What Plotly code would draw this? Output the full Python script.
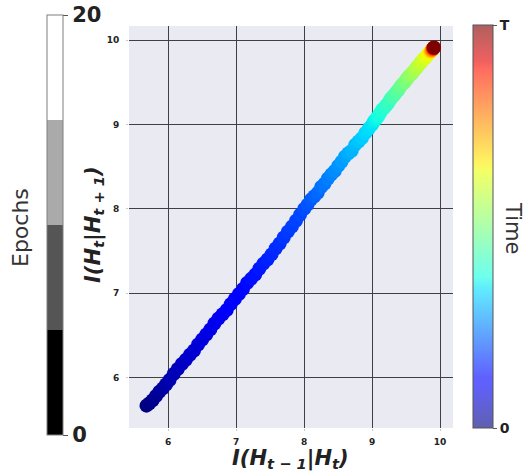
import numpy as np
import plotly.graph_objects as go

# ---------------- data ----------------
# each point: previous-step MI (x), next-step MI (y), normalised time (colour)
x_prev = [
    5.68, 5.72, 5.77, 5.82, 5.87, 5.92, 5.97, 6.02, 6.08, 6.14,
    6.20, 6.26, 6.32, 6.38, 6.44, 6.50, 6.56, 6.62, 6.68, 6.74,
    6.80, 6.86, 6.92, 6.98, 7.04, 7.10, 7.16, 7.22, 7.28, 7.34,
    7.40, 7.46, 7.52, 7.58, 7.64, 7.70, 7.76, 7.82, 7.88, 7.94,
    8.00, 8.05, 8.10, 8.15, 8.20, 8.25, 8.30, 8.35, 8.40, 8.45,
    8.50, 8.55, 8.60, 8.65, 8.70, 8.75, 8.80, 8.85, 8.90, 8.95,
    9.00, 9.03, 9.06, 9.09, 9.12, 9.15, 9.18, 9.21, 9.24, 9.27,
    9.30, 9.325, 9.35, 9.375, 9.40, 9.425, 9.45, 9.475, 9.50, 9.52,
    9.54, 9.56, 9.58, 9.60, 9.62, 9.64, 9.66, 9.68, 9.70, 9.72,
    9.74, 9.76, 9.78, 9.80, 9.82, 9.83, 9.85, 9.86, 9.87, 9.88,
    9.89, 9.895, 9.90, 9.905, 9.908, 9.91,
]
y_next = [
    5.665, 5.69, 5.73, 5.78, 5.83, 5.87, 5.92, 5.97, 6.04, 6.10,
    6.16, 6.21, 6.27, 6.32, 6.39, 6.45, 6.51, 6.57, 6.64, 6.70,
    6.75, 6.80, 6.87, 6.93, 6.99, 7.05, 7.12, 7.17, 7.22, 7.29,
    7.35, 7.40, 7.46, 7.53, 7.59, 7.66, 7.73, 7.79, 7.86, 7.93,
    8.00, 8.05, 8.11, 8.15, 8.19, 8.26, 8.30, 8.36, 8.41, 8.45,
    8.51, 8.56, 8.62, 8.66, 8.69, 8.76, 8.80, 8.84, 8.90, 8.95,
    9.00, 9.04, 9.07, 9.10, 9.14, 9.18, 9.20, 9.23, 9.26, 9.30,
    9.33, 9.35, 9.38, 9.40, 9.43, 9.46, 9.48, 9.50, 9.53, 9.55,
    9.57, 9.59, 9.60, 9.62, 9.64, 9.66, 9.68, 9.70, 9.72, 9.74,
    9.76, 9.78, 9.79, 9.81, 9.83, 9.84, 9.86, 9.866, 9.875, 9.885,
    9.894, 9.90, 9.905, 9.91, 9.912, 9.915,
]
time_frac = [
    0.000, 0.005, 0.011, 0.017, 0.023, 0.029, 0.036, 0.042, 0.046, 0.051,
    0.056, 0.061, 0.066, 0.070, 0.075, 0.080, 0.085, 0.090, 0.094, 0.099,
    0.104, 0.109, 0.114, 0.118, 0.123, 0.128, 0.133, 0.138, 0.142, 0.147,
    0.152, 0.157, 0.162, 0.166, 0.171, 0.176, 0.181, 0.186, 0.190, 0.195,
    0.200, 0.207, 0.214, 0.221, 0.228, 0.235, 0.242, 0.249, 0.256, 0.263,
    0.270, 0.278, 0.286, 0.294, 0.302, 0.310, 0.318, 0.326, 0.334, 0.342,
    0.350, 0.358, 0.366, 0.374, 0.382, 0.390, 0.398, 0.406, 0.414, 0.422,
    0.430, 0.439, 0.448, 0.456, 0.465, 0.474, 0.483, 0.491, 0.500, 0.508,
    0.516, 0.524, 0.532, 0.540, 0.548, 0.556, 0.564, 0.572, 0.580, 0.589,
    0.598, 0.606, 0.615, 0.624, 0.633, 0.641, 0.650, 0.680, 0.720, 0.760,
    0.800, 0.840, 0.880, 0.920, 0.960, 1.000,
]
x_ticks = [6, 7, 8, 9, 10]
y_ticks = [6, 7, 8, 9, 10]
epoch_ticks = [0, 20]
time_ticks = [0, 1]
time_ticktext = ["0", "T"]

# ---------------- styling helpers ----------------
_R = [(0, 0), (0.35, 0), (0.66, 1), (0.89, 1), (1, 0.5)]
_G = [(0, 0), (0.125, 0), (0.375, 1), (0.64, 1), (0.91, 0), (1, 0)]
_B = [(0, 0.5), (0.11, 1), (0.34, 1), (0.65, 0), (1, 0)]


def _ch(seg, v):
    return float(np.interp(v, [p[0] for p in seg], [p[1] for p in seg]))


def jet_scale(alpha=1.0):
    stops = sorted({p[0] for s in (_R, _G, _B) for p in s} | set(np.linspace(0, 1, 21)))
    out = []
    for v in stops:
        r, g, b = (_ch(s, v) for s in (_R, _G, _B))
        r, g, b = (alpha * c + (1 - alpha) * 1.0 for c in (r, g, b))
        out.append([float(v), f"rgb({int(r*255)},{int(g*255)},{int(b*255)})"])
    return out


W, H = 526, 472
ML, MR, MT, MB = 129, 73, 26, 44
PW, PH = W - ML - MR, H - MT - MB
BOTTOM = H - MB


def px_x(px):
    return (px - ML) / PW


def px_y(py):
    return (BOTTOM - py) / PH


fig = go.Figure()

fig.add_trace(go.Scatter(
    x=x_prev, y=y_next, mode="markers",
    marker=dict(size=14, color=time_frac, colorscale=jet_scale(), cmin=0, cmax=1,
                showscale=False, line=dict(width=0), opacity=1),
    hoverinfo="skip", showlegend=False,
))

# Left "Epochs" colorbar
fig.add_trace(go.Scatter(
    x=[0], y=[0], mode="markers", showlegend=False, hoverinfo="skip",
    marker=dict(
        size=1, color=[0], cmin=0, cmax=20, opacity=0,
        colorscale=[[0, "#000000"], [0.25, "#000000"], [0.25, "#555555"], [0.5, "#555555"],
                    [0.5, "#aaaaaa"], [0.75, "#aaaaaa"], [0.75, "#ffffff"], [1, "#ffffff"]],
        showscale=True,
        colorbar=dict(
            xref="paper", yref="paper",
            x=px_x(47), xanchor="left", y=px_y(15), yanchor="top",
            thicknessmode="pixels", thickness=16, lenmode="pixels", len=420,
            xpad=0, ypad=0, outlinewidth=1, outlinecolor="#7f7f7f",
            tickvals=epoch_ticks, ticktext=[str(t) for t in epoch_ticks],
            ticks="outside", ticklen=5, tickwidth=1, tickcolor="#555555",
            tickfont=dict(family="DejaVu Sans", size=21, color="#222222", weight="bold"),
        ),
    ),
))

# Right "Time" colorbar
fig.add_trace(go.Scatter(
    x=[0], y=[0], mode="markers", showlegend=False, hoverinfo="skip",
    marker=dict(
        size=1, color=[0], cmin=0, cmax=1, opacity=0,
        colorscale=jet_scale(alpha=0.62),
        showscale=True,
        colorbar=dict(
            xref="paper", yref="paper",
            x=px_x(473), xanchor="left", y=px_y(25), yanchor="top",
            thicknessmode="pixels", thickness=20, lenmode="pixels", len=403,
            xpad=0, ypad=0, outlinewidth=1, outlinecolor="#555555",
            tickvals=time_ticks, ticktext=time_ticktext,
            ticks="outside", ticklen=4, tickwidth=1, tickcolor="#555555",
            tickfont=dict(family="DejaVu Sans", size=14, color="#222222", weight="bold"),
        ),
    ),
))

axis_common = dict(
    showgrid=True, gridcolor="#404040", gridwidth=1, zeroline=False, showline=False,
    ticks="outside", ticklen=2, tickcolor="#c8c8c8",
    tickfont=dict(family="DejaVu Sans", size=9, color="#222222", weight="bold"),
)

fig.update_xaxes(range=[5.423, 10.19], tickvals=x_ticks, ticktext=[str(t) for t in x_ticks],
                 ticklabelstandoff=3, **axis_common)
fig.update_yaxes(range=[5.40, 10.17], tickvals=y_ticks, ticktext=[str(t) for t in y_ticks],
                 ticklabelstandoff=5, **axis_common)

title_font = dict(family="DejaVu Sans", size=21, color="#222222")
fig.add_annotation(
    text="<b><i>I(H<sub>t − 1</sub>|H<sub>t</sub>)</i></b>",
    xref="paper", yref="paper", x=px_x(290), y=px_y(459),
    xanchor="center", yanchor="middle", showarrow=False, font=title_font,
)
fig.add_annotation(
    text="<b><i>I(H<sub>t</sub>|H<sub>t + 1</sub>)</i></b>",
    xref="paper", yref="paper", x=px_x(94), y=px_y(225),
    xanchor="center", yanchor="middle", textangle=-90, showarrow=False, font=title_font,
)
fig.add_annotation(
    text="Epochs", xref="paper", yref="paper", x=px_x(20), y=px_y(228),
    xanchor="center", yanchor="middle", textangle=-90, showarrow=False,
    font=dict(family="DejaVu Sans", size=22, color="#333333"),
)
fig.add_annotation(
    text="Time", xref="paper", yref="paper", x=px_x(513), y=px_y(228),
    xanchor="center", yanchor="middle", textangle=90, showarrow=False,
    font=dict(family="DejaVu Sans", size=21, color="#333333"),
)

fig.update_layout(
    width=W, height=H, autosize=False,
    margin=dict(l=ML, r=MR, t=MT, b=MB, pad=0),
    plot_bgcolor="#EAEAF2", paper_bgcolor="white",
    showlegend=False,
)

fig.write_html("out.html")
